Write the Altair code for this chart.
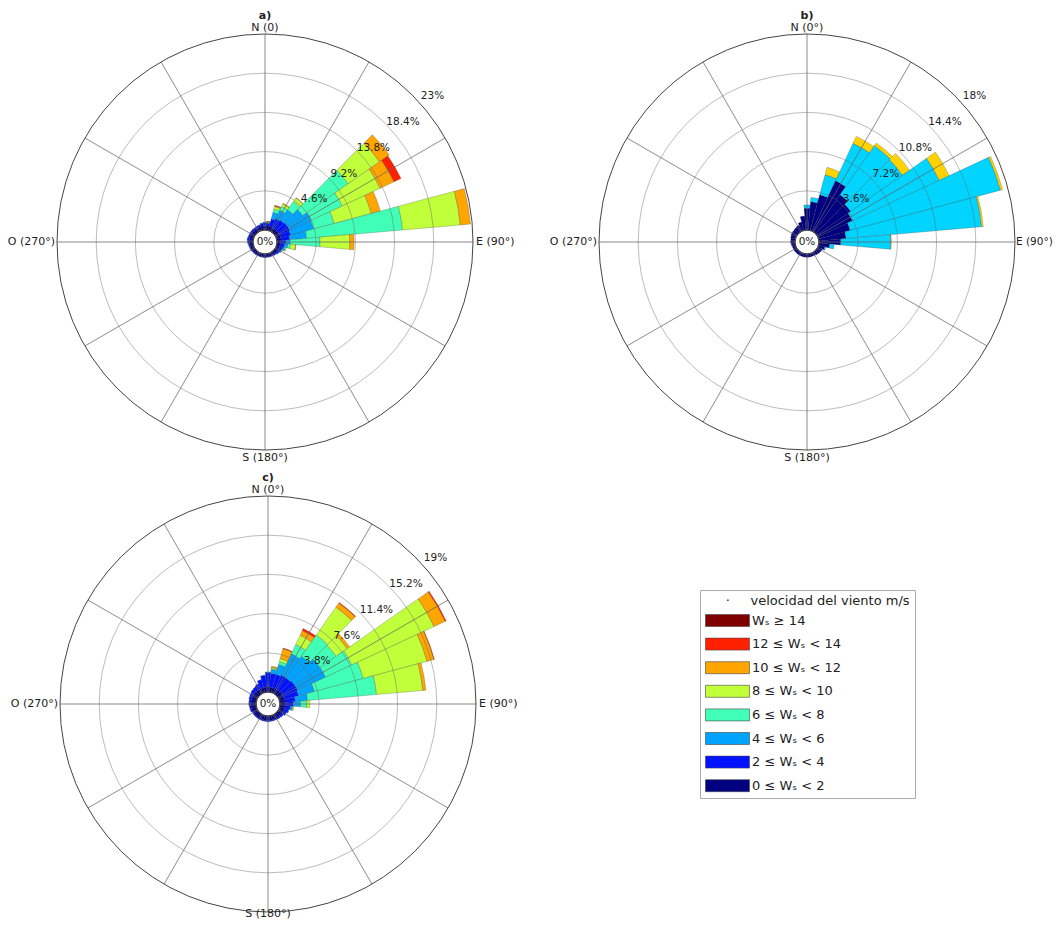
import math
import altair as alt
import pandas as pd

# ---------------- data ----------------
DIRECCIONES = list(range(0, 360, 10))   # sector centres (deg from N, clockwise)
ANCHO = 10                              # sector width (deg)

CLASES = ["0 ≤ Wₛ < 2", "2 ≤ Wₛ < 4", "4 ≤ Wₛ < 6", "6 ≤ Wₛ < 8",
          "8 ≤ Wₛ < 10", "10 ≤ Wₛ < 12", "12 ≤ Wₛ < 14", "Wₛ ≥ 14"]
COLORES = ["#000080", "#0012ff", "#00a4ff", "#41ffb6",
           "#c0ff3a", "#ffa500", "#ff2000", "#800000"]
CLASES_B = ["0 ≤ Wₛ < 2", "b: clase 2", "b: clase 3"]
COLORES_B_EXTRA = ["#00d4ff", "#ffd200"]

# panel a) frequency (%) per sector and speed class
a_0_2 = [0.5, 0.5, 0.5, 0.5, 0.5, 0.5, 0.5, 0.5, 0.5, 0.45, 0.4, 0.4,
         0.4, 0.4, 0.35, 0.35, 0.35, 0.35, 0.35, 0.35, 0.35, 0.35, 0.35, 0.35,
         0.4, 0.4, 0.4, 0.45, 0.45, 0.45, 0.45, 0.45, 0.45, 0.45, 0.45, 0.5]
a_2_4 = [0.35, 0.3, 0.9, 1.1, 1.2, 1.3, 1.3, 1.2, 1.0, 0.6, 0.5, 0.4,
         0.3, 0.2, 0.15, 0.1, 0.08, 0.06, 0.05, 0.05, 0.05, 0.06, 0.08, 0.1,
         0.1, 0.12, 0.15, 0.2, 0.25, 0.2, 0.2, 0.2, 0.2, 0.2, 0.25, 0.3]
a_4_6 = [0.1, 0.05, 0.8, 1.1, 1.5, 2.2, 2.8, 2.8, 2.0, 0.5, 0.4, 0.2,
         0.1, 0.05, 0, 0, 0, 0, 0, 0, 0, 0, 0, 0,
         0, 0, 0, 0, 0, 0, 0, 0, 0, 0, 0, 0.05]
a_6_8 = [0, 0.05, 0.4, 0.5, 1.2, 6.5, 4.0, 2.5, 11.3, 3.5, 0.3, 0.1,
         0, 0, 0, 0, 0, 0, 0, 0, 0, 0, 0, 0,
         0, 0, 0, 0, 0, 0, 0, 0, 0, 0, 0, 0]
a_8_10 = [0, 0.05, 0.3, 0.3, 0.5, 4.5, 4.9, 4.5, 6.8, 3.5, 0.6, 0.1,
          0, 0, 0, 0, 0, 0, 0, 0, 0, 0, 0, 0,
          0, 0, 0, 0, 0, 0, 0, 0, 0, 0, 0, 0]
a_10_12 = [0, 0.05, 0.1, 0.1, 0.05, 1.4, 1.8, 1.1, 1.2, 0.5, 0.05, 0,
           0, 0, 0, 0, 0, 0, 0, 0, 0, 0, 0, 0,
           0, 0, 0, 0, 0, 0, 0, 0, 0, 0, 0, 0]
a_12_14 = [0, 0.03, 0.05, 0, 0, 0, 0.9, 0, 0, 0, 0, 0,
           0, 0, 0, 0, 0, 0, 0, 0, 0, 0, 0, 0,
           0, 0, 0, 0, 0, 0, 0, 0, 0, 0, 0, 0]

# panel b)
b_0_2 = [2.0, 2.6, 3.4, 5.1, 4.2, 3.8, 3.5, 3.0, 2.5, 2.0, 1.0, 0.6,
         0.45, 0.4, 0.35, 0.3, 0.3, 0.3, 0.3, 0.3, 0.3, 0.3, 0.3, 0.3,
         0.3, 0.3, 0.35, 0.4, 0.4, 0.45, 0.5, 0.5, 0.55, 0.6, 0.8, 1.3]
b_clase2 = [0.3, 0.4, 1.9, 3.8, 5.5, 5.8, 8.8, 14.3, 12.5, 4.6, 0.4, 0.1,
            0, 0, 0, 0, 0, 0, 0, 0, 0, 0, 0, 0,
            0, 0, 0, 0, 0, 0, 0, 0, 0, 0, 0, 0]
b_clase3 = [0, 0, 0.7, 0.7, 0.3, 0.8, 1.0, 0.2, 0.15, 0.03, 0, 0,
            0, 0, 0, 0, 0, 0, 0, 0, 0, 0, 0, 0,
            0, 0, 0, 0, 0, 0, 0, 0, 0, 0, 0, 0]

# panel c)
c_0_2 = [0.5, 0.5, 0.5, 0.5, 0.5, 0.5, 0.5, 0.5, 0.5, 0.5, 0.5, 0.5,
         0.5, 0.45, 0.45, 0.45, 0.45, 0.45, 0.45, 0.45, 0.45, 0.45, 0.45, 0.45,
         0.45, 0.5, 0.5, 0.5, 0.5, 0.5, 0.5, 0.5, 0.5, 0.5, 0.5, 0.5]
c_2_4 = [1.4, 1.3, 1.3, 1.4, 1.4, 1.5, 1.5, 1.4, 1.0, 0.8, 0.5, 0.4,
         0.3, 0.2, 0.15, 0.1, 0.1, 0.1, 0.1, 0.1, 0.1, 0.1, 0.1, 0.1,
         0.1, 0.15, 0.15, 0.2, 0.2, 0.25, 0.3, 0.35, 0.4, 0.5, 0.8, 1.1]
c_4_6 = [0.05, 0.4, 1.0, 2.3, 2.6, 3.0, 3.0, 1.6, 1.2, 0.7, 0.2, 0.05,
         0, 0, 0, 0, 0, 0, 0, 0, 0, 0, 0, 0,
         0, 0, 0, 0, 0, 0, 0, 0, 0, 0, 0, 0.05]
c_6_8 = [0, 0.1, 0.3, 1.0, 2.5, 1.9, 2.8, 4.9, 6.7, 0.6, 0.05, 0,
         0, 0, 0, 0, 0, 0, 0, 0, 0, 0, 0, 0,
         0, 0, 0, 0, 0, 0, 0, 0, 0, 0, 0, 0]
c_8_10 = [0, 0.1, 0.3, 1.0, 3.3, 1.3, 8.8, 6.4, 4.5, 0.3, 0.1, 0,
          0, 0, 0, 0, 0, 0, 0, 0, 0, 0, 0, 0,
          0, 0, 0, 0, 0, 0, 0, 0, 0, 0, 0, 0]
c_10_12 = [0, 0.1, 1.0, 0.5, 0.5, 0.3, 1.2, 0.7, 0.3, 0, 0, 0,
           0, 0, 0, 0, 0, 0, 0, 0, 0, 0, 0, 0,
           0, 0, 0, 0, 0, 0, 0, 0, 0, 0, 0, 0]
c_12_14 = [0, 0, 0.05, 0.2, 0.05, 0, 0.1, 0.03, 0, 0, 0, 0,
           0, 0, 0, 0, 0, 0, 0, 0, 0, 0, 0, 0,
           0, 0, 0, 0, 0, 0, 0, 0, 0, 0, 0, 0]

# radial ticks
A_TICKS = [4.6, 9.2, 13.8, 18.4, 23.0]
A_TICK_LABELS = ["4.6%", "9.2%", "13.8%", "18.4%", "23%"]
B_TICKS = [3.6, 7.2, 10.8, 14.4, 18.0]
B_TICK_LABELS = ["3.6%", "7.2%", "10.8%", "14.4%", "18%"]
C_TICKS = [3.8, 7.6, 11.4, 15.2, 19.0]
C_TICK_LABELS = ["3.8%", "7.6%", "11.4%", "15.2%", "19%"]

# ---------------- styling / layout ----------------
R0, R1 = 12, 208          # pixel radius of 0 % and of the outer ring
FONT = "DejaVu Sans"
TXT = "#222222"
GRID = "#666666"

COLOR_SCALE = alt.Scale(domain=CLASES + CLASES_B[1:], range=COLORES + COLORES_B_EXTRA)
NB = "\u00a0"
LEYENDA = alt.Legend(
    orient="none", legendX=692, legendY=582, direction="vertical",
    values=list(reversed(CLASES)),
    title="\u200b" + NB * 5 + "·" + NB * 5 + "velocidad del viento m/s",
    titleFontSize=13, titleFontWeight="normal", titleColor=TXT, titlePadding=6,
    titleFont=FONT, labelFont=FONT, titleLimit=600,
    labelFontSize=13, labelColor=TXT, labelOffset=34, labelLimit=300,
    symbolType="M-1,-1H6.33V1H-1Z", symbolSize=144,
    symbolStrokeColor="#444444", symbolStrokeWidth=0.6, symbolOpacity=1,
    rowPadding=8.6, padding=5, strokeColor="#aaaaaa", fillColor="white",
    cornerRadius=0,
)


def px_units(px, vmax):
    return (px - R0) / (R1 - R0) * vmax


def panel(series, clases, vmax, ticks, tick_labels, norte, titulo, cx, cy, s_px, e_px, e_size):
    rs = alt.Scale(type="linear", domain=[0, vmax], range=[R0, R1], nice=False)
    ts = alt.Scale(type="linear", domain=[0, 360], range=[0, 2 * math.pi], nice=False)
    X, Y = alt.value(cx), alt.value(cy)

    rows = []
    for i, d in enumerate(DIRECCIONES):
        base = 0.0
        for clase, vals in zip(clases, series):
            v = vals[i]
            if v > 0:
                rows.append({"clase": clase, "t0": d - ANCHO / 2, "t1": d + ANCHO / 2,
                             "r0": base, "r1": base + v, "dir": d, "pct": v})
            base += v
    bars = alt.Chart(pd.DataFrame(rows)).mark_arc(
        stroke="#333333", strokeWidth=0.35, strokeOpacity=0.7
    ).encode(
        theta=alt.Theta("t0:Q", scale=ts, stack=False),
        theta2=alt.Theta2("t1"),
        radius=alt.Radius("r1:Q", scale=rs, stack=False),
        radius2=alt.Radius2("r0"),
        color=alt.Color("clase:N", scale=COLOR_SCALE, legend=LEYENDA),
        x=X, y=Y,
    )

    rings = alt.Chart(pd.DataFrame({"r": ticks[:-1]})).mark_arc(
        fillOpacity=0, stroke=GRID, strokeOpacity=0.55, strokeWidth=0.8
    ).encode(
        theta=alt.value(0), theta2=alt.value(2 * math.pi),
        radius=alt.Radius("r:Q", scale=rs, stack=False), x=X, y=Y,
    )
    outer = alt.Chart(pd.DataFrame({"r": ticks[-1:]})).mark_arc(
        fillOpacity=0, stroke="#444444", strokeWidth=1
    ).encode(
        theta=alt.value(0), theta2=alt.value(2 * math.pi),
        radius=alt.Radius("r:Q", scale=rs, stack=False), x=X, y=Y,
    )
    sp = pd.DataFrame({"a": list(range(0, 360, 30))})
    sp["r0"] = 0.0
    sp["r1"] = vmax
    spokes = alt.Chart(sp).mark_arc(
        fillOpacity=0, stroke=GRID, strokeOpacity=0.55, strokeWidth=0.8
    ).encode(
        theta=alt.Theta("a:Q", scale=ts, stack=False), theta2=alt.Theta2("a"),
        radius=alt.Radius("r1:Q", scale=rs, stack=False), radius2=alt.Radius2("r0"),
        x=X, y=Y,
    )

    def txt(df, align, baseline, size, weight="normal"):
        return alt.Chart(df).mark_text(
            align=align, baseline=baseline, fontSize=size, fontWeight=weight,
            color=TXT, font=FONT
        ).encode(
            theta=alt.Theta("a:Q", scale=ts, stack=False),
            radius=alt.Radius("r:Q", scale=rs, stack=False),
            text="t:N", x=X, y=Y,
        )

    lab_n = txt(pd.DataFrame({"a": [0], "r": [px_units(214, vmax)], "t": [norte]}), "center", "middle", 11)
    lab_e = txt(pd.DataFrame({"a": [90], "r": [px_units(e_px, vmax)], "t": ["E (90°)"]}), "left", "middle", e_size)
    lab_s = txt(pd.DataFrame({"a": [180], "r": [px_units(s_px, vmax)], "t": ["S (180°)"]}), "center", "middle", 11)
    lab_o = txt(pd.DataFrame({"a": [270], "r": [px_units(210, vmax)], "t": ["O (270°)"]}), "right", "middle", 11)
    tit = txt(pd.DataFrame({"a": [0], "r": [px_units(226, vmax)], "t": [titulo]}), "center", "middle", 11, "bold")
    off = px_units(R0 + 14, vmax)
    rl = txt(pd.DataFrame({"a": [49] * len(ticks), "r": [t + off for t in ticks], "t": tick_labels}),
             "center", "middle", 10.5)
    cero = alt.Chart(pd.DataFrame({"t": ["0%"]})).mark_text(
        align="center", baseline="middle", fontSize=10.5, color=TXT, font=FONT
    ).encode(text="t:N", x=X, y=Y)

    return alt.layer(bars, rings, spokes, outer, rl, lab_n, lab_e, lab_s, lab_o, tit, cero)


pa = panel([a_0_2, a_2_4, a_4_6, a_6_8, a_8_10, a_10_12, a_12_14], CLASES,
           23.0, A_TICKS, A_TICK_LABELS, "N (0)", "a)", 257, 234, 216, 211, 11)
pb = panel([b_0_2, b_clase2, b_clase3], CLASES_B,
           18.0, B_TICKS, B_TICK_LABELS, "N (0°)", "b)", 799, 234, 216, 209, 10.5)
pc = panel([c_0_2, c_2_4, c_4_6, c_6_8, c_8_10, c_10_12, c_12_14], CLASES,
           19.0, C_TICKS, C_TICK_LABELS, "N (0°)", "c)", 260, 696, 210, 211, 11)

chart = alt.layer(pa, pb, pc).resolve_scale(radius="independent").properties(
    width=1046, height=913, padding=0, autosize=alt.AutoSizeParams(type="none")
).configure(font=FONT).configure_view(stroke=None)

chart.save("out.html", embed_options={"renderer": "svg", "actions": False})
